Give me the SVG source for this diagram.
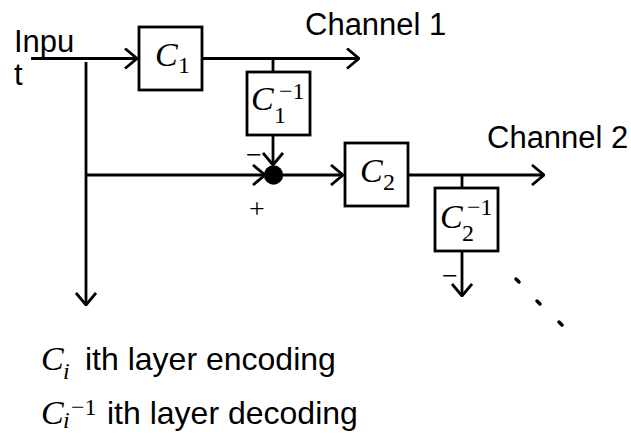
<svg xmlns="http://www.w3.org/2000/svg" width="631" height="434" viewBox="0 0 631 434">
<style>
.ln{stroke:#000;stroke-width:2.8;fill:none}
.bx{stroke:#000;stroke-width:2.8;fill:#fff}
.t{font-family:"Liberation Sans",Arial,sans-serif;font-size:31px;fill:#000}
.tl{font-family:"Liberation Sans",Arial,sans-serif;font-size:32px;fill:#000}
.m{font-family:"Liberation Serif","Times New Roman",serif;font-style:italic;font-size:34px;fill:#000}
.s{font-family:"Liberation Serif","Times New Roman",serif;font-style:normal;font-size:24px;fill:#000}
.si{font-family:"Liberation Serif","Times New Roman",serif;font-style:italic;font-size:24px;fill:#000}
.op{font-family:"Liberation Serif","Times New Roman",serif;font-size:28px;fill:#000;text-anchor:middle}
</style>
<defs>
<marker id="ar" viewBox="0 0 14 22" refX="13" refY="11" markerWidth="14" markerHeight="22" markerUnits="userSpaceOnUse" orient="auto">
<path d="M1,1 L13,11 L1,21" fill="none" stroke="#000" stroke-width="2.8"/>
</marker>
</defs>
<g id="connectors">
<path class="ln" d="M31,58.5 H137" marker-end="url(#ar)"/>
<path class="ln" d="M202,58.5 H359" marker-end="url(#ar)"/>
<path class="ln" d="M273,58.5 V72"/>
<path class="ln" d="M86,62 V305" marker-end="url(#ar)"/>
<path class="ln" d="M86,175 H265" marker-end="url(#ar)"/>
<path class="ln" d="M273,135 V165" marker-end="url(#ar)"/>
<path class="ln" d="M283,175 H343" marker-end="url(#ar)"/>
<path class="ln" d="M408,175 H544" marker-end="url(#ar)"/>
<path class="ln" d="M462,175 V188"/>
<path class="ln" d="M462,251 V296" marker-end="url(#ar)"/>
</g>
<g id="input-label">
<text class="t" x="14" y="52">Inpu</text>
<text class="t" x="14" y="85">t</text>
</g>
<g id="channel1-label"><text class="t" x="305" y="35">Channel 1</text></g>
<g id="channel2-label"><text class="t" x="487" y="148">Channel 2</text></g>
<g id="C1">
<rect class="bx" x="139" y="27" width="63" height="63"/>
<text x="155" y="66"><tspan class="m">C</tspan><tspan class="s" x="178" y="73">1</tspan></text>
</g>
<g id="C1inv">
<rect class="bx" x="247" y="72" width="63" height="63"/>
<text x="251" y="110"><tspan class="m">C</tspan><tspan class="s" x="274" y="123">1</tspan><tspan class="s" x="279" y="99">−1</tspan></text>
</g>
<g id="sum">
<circle cx="273.5" cy="175" r="9.7" fill="#000"/>
<text class="op" x="254" y="164">−</text>
<text class="op" x="257" y="218">+</text>
</g>
<g id="C2">
<rect class="bx" x="345" y="143" width="63" height="63"/>
<text x="360" y="182"><tspan class="m">C</tspan><tspan class="s" x="383" y="190">2</tspan></text>
</g>
<g id="C2inv">
<rect class="bx" x="435" y="188" width="63" height="63"/>
<text x="440" y="228"><tspan class="m">C</tspan><tspan class="s" x="462" y="241">2</tspan><tspan class="s" x="467" y="215">−1</tspan></text>
<text class="op" x="450" y="285">−</text>
</g>
<g id="ellipsis">
<path d="M516,279 L519,282 M537,301 L540,304 M559,322 L562,325" stroke="#000" stroke-width="3.5" stroke-linecap="round" fill="none"/>
</g>
<g id="legend">
<text x="41" y="370"><tspan class="m">C</tspan><tspan class="si" x="63" y="379">i</tspan></text>
<text class="tl" x="85" y="370">ith layer encoding</text>
<text x="41" y="424"><tspan class="m">C</tspan><tspan class="si" x="63" y="428">i</tspan><tspan class="s" x="71" y="415">−1</tspan></text>
<text class="tl" x="107" y="424">ith layer decoding</text>
</g>
</svg>
